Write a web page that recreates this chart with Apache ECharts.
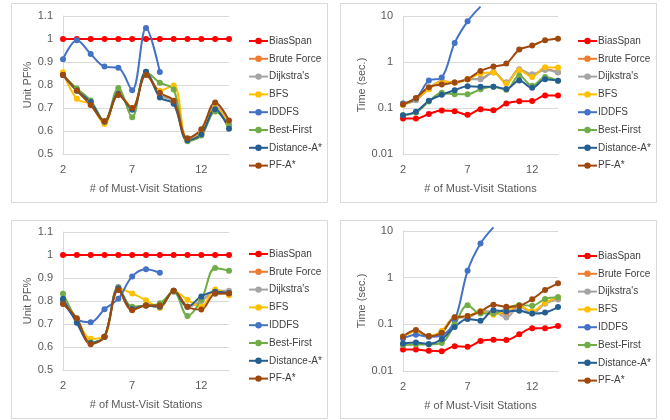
<!DOCTYPE html>
<html>
<head>
<meta charset="utf-8">
<script src="https://cdn.jsdelivr.net/npm/echarts@6/dist/echarts.min.js"></script>
<style>
  html, body { margin: 0; padding: 0; background: #fff; }
  #chart { width: 670px; height: 420px; }
</style>
</head>
<body>
<div id="chart"></div>
<script>
// Number of must-visit stations (x axis of every panel)
const stations = ['2', '3', '4', '5', '6', '7', '8', '9', '10', '11', '12', '13', '14'];
const algorithms = ['BiasSpan', 'Brute Force', "Dijkstra's", 'BFS', 'IDDFS', 'Best-First', 'Distance-A*', 'PF-A*'];
const algoColors = ['#FF0000', '#ED7D31', '#A5A5A5', '#FFC000', '#4472C4', '#70AD47', '#255E91', '#9E480E'];

// Panel 1: unit PF% (first scenario)
const pf1BiasSpan   = [1, 1, 1, 1, 1, 1, 1, 1, 1, 1, 1, 1, 1];
const pf1BruteForce = [0.845, 0.778, 0.728, 0.640, 0.762, 0.695, 0.855, 0.760, 0.727, 0.562, 0.595, 0.705, 0.625];
const pf1Dijkstra   = [0.845, 0.779, 0.728, 0.641, 0.763, 0.696, 0.856, 0.758, 0.726, 0.562, 0.596, 0.705, 0.627];
const pf1BFS        = [0.855, 0.740, 0.715, 0.630, 0.765, 0.700, 0.850, 0.775, 0.798, 0.560, 0.590, 0.700, 0.630];
const pf1IDDFS      = [0.912, 0.995, 0.935, 0.880, 0.875, 0.777, 1.048, 0.857, null, null, null, null, null];
const pf1BestFirst  = [0.843, 0.785, 0.733, 0.643, 0.787, 0.660, 0.858, 0.810, 0.780, 0.555, 0.580, 0.685, 0.625];
const pf1DistAStar  = [0.843, 0.775, 0.726, 0.640, 0.762, 0.692, 0.858, 0.746, 0.718, 0.560, 0.586, 0.695, 0.610];
const pf1PFAStar    = [0.843, 0.776, 0.713, 0.642, 0.757, 0.700, 0.843, 0.766, 0.732, 0.568, 0.608, 0.724, 0.646];

// Panel 2: run time in seconds (first scenario)
const t1BiasSpan   = [0.059, 0.059, 0.074, 0.088, 0.085, 0.071, 0.094, 0.089, 0.125, 0.140, 0.142, 0.187, 0.186];
const t1BruteForce = [0.120, 0.150, 0.260, 0.380, 0.360, 0.420, 0.430, 0.600, 0.360, 0.680, 0.520, 0.700, 0.600];
const t1Dijkstra   = [0.125, 0.148, 0.270, 0.370, 0.360, 0.420, 0.420, 0.600, 0.360, 0.700, 0.540, 0.670, 0.590];
const t1BFS        = [0.116, 0.158, 0.256, 0.383, 0.355, 0.420, 0.561, 0.590, 0.340, 0.660, 0.474, 0.770, 0.760];
const t1IDDFS      = [0.125, 0.158, 0.395, 0.460, 2.600, 7.660, 16, null, null, null, null, null, null];
const t1BestFirst  = [0.070, 0.080, 0.138, 0.214, 0.200, 0.200, 0.256, 0.290, 0.250, 0.508, 0.303, 0.470, 0.389];
const t1DistAStar  = [0.070, 0.083, 0.143, 0.193, 0.244, 0.298, 0.290, 0.290, 0.260, 0.395, 0.274, 0.420, 0.389];
const t1PFAStar    = [0.119, 0.166, 0.284, 0.324, 0.358, 0.423, 0.641, 0.797, 0.925, 1.860, 2.270, 2.960, 3.220];

// Panel 3: unit PF% (second scenario)
const pf2BiasSpan   = [1, 1, 1, 1, 1, 1, 1, 1, 1, 1, 1, 1, 1];
const pf2BruteForce = [0.800, 0.720, 0.620, 0.645, 0.855, 0.770, 0.780, 0.775, 0.845, 0.775, 0.800, 0.840, 0.835];
const pf2Dijkstra   = [0.800, 0.720, 0.620, 0.645, 0.862, 0.770, 0.780, 0.775, 0.845, 0.775, 0.800, 0.845, 0.845];
const pf2BFS        = [0.790, 0.720, 0.636, 0.645, 0.855, 0.833, 0.803, 0.770, 0.845, 0.805, 0.775, 0.850, 0.825];
const pf2IDDFS      = [0.800, 0.720, 0.708, 0.764, 0.810, 0.907, 0.938, 0.923, null, null, null, null, null];
const pf2BestFirst  = [0.832, 0.715, 0.620, 0.645, 0.855, 0.775, 0.780, 0.790, 0.840, 0.735, 0.805, 0.943, 0.932];
const pf2DistAStar  = [0.810, 0.705, 0.617, 0.645, 0.855, 0.765, 0.780, 0.775, 0.845, 0.775, 0.820, 0.840, 0.835];
const pf2PFAStar    = [0.787, 0.725, 0.612, 0.645, 0.848, 0.760, 0.780, 0.780, 0.845, 0.775, 0.763, 0.832, 0.833];

// Panel 4: run time in seconds (second scenario)
const t2BiasSpan   = [0.029, 0.029, 0.027, 0.0265, 0.034, 0.033, 0.044, 0.047, 0.046, 0.061, 0.082, 0.082, 0.092];
const t2BruteForce = [0.055, 0.072, 0.055, 0.070, 0.140, 0.145, 0.190, 0.180, 0.170, 0.250, 0.180, 0.280, 0.350];
const t2Dijkstra   = [0.055, 0.072, 0.055, 0.070, 0.140, 0.140, 0.190, 0.190, 0.140, 0.240, 0.170, 0.280, 0.340];
const t2BFS        = [0.054, 0.070, 0.056, 0.073, 0.140, 0.150, 0.190, 0.160, 0.200, 0.250, 0.190, 0.290, 0.380];
const t2IDDFS      = [0.050, 0.060, 0.054, 0.058, 0.120, 1.400, 5.400, 12, null, null, null, null, null];
const t2BestFirst  = [0.036, 0.037, 0.037, 0.040, 0.100, 0.255, 0.170, 0.170, 0.220, 0.260, 0.250, 0.350, 0.380];
const t2DistAStar  = [0.039, 0.041, 0.038, 0.048, 0.088, 0.130, 0.120, 0.200, 0.190, 0.195, 0.170, 0.180, 0.235];
const t2PFAStar    = [0.0545, 0.0756, 0.056, 0.066, 0.141, 0.150, 0.187, 0.264, 0.237, 0.250, 0.344, 0.545, 0.757];

const panelSeries = [
  [pf1BiasSpan, pf1BruteForce, pf1Dijkstra, pf1BFS, pf1IDDFS, pf1BestFirst, pf1DistAStar, pf1PFAStar],
  [t1BiasSpan, t1BruteForce, t1Dijkstra, t1BFS, t1IDDFS, t1BestFirst, t1DistAStar, t1PFAStar],
  [pf2BiasSpan, pf2BruteForce, pf2Dijkstra, pf2BFS, pf2IDDFS, pf2BestFirst, pf2DistAStar, pf2PFAStar],
  [t2BiasSpan, t2BruteForce, t2Dijkstra, t2BFS, t2IDDFS, t2BestFirst, t2DistAStar, t2PFAStar]
];

const FONT = 'Liberation Sans';
const TEXT = '#595959';
const LINE = '#d9d9d9';

// panel layout: plot rectangles, legend anchors, frame boxes
const grids = [
  { left: 63, top: 16, width: 166, height: 138 },
  { left: 403, top: 16, width: 155, height: 138 },
  { left: 63, top: 232, width: 166, height: 138 },
  { left: 403, top: 231, width: 155, height: 140 }
];
const legendPos = [
  { left: 248, top: 36 }, { left: 577, top: 36 },
  { left: 248, top: 249 }, { left: 577, top: 251 }
];
const frames = [
  { x: 11.5, y: 3.5, width: 316, height: 199 },
  { x: 340.5, y: 3.5, width: 316, height: 199 },
  { x: 11.5, y: 220.5, width: 316, height: 198 },
  { x: 340.5, y: 220.5, width: 316, height: 198 }
];
const isTime = [false, true, false, true];

const xAxes = grids.map((g, i) => ({
  type: 'category',
  gridIndex: i,
  data: stations,
  boundaryGap: false,
  name: '# of Must-Visit Stations',
  nameLocation: 'middle',
  nameGap: 29,
  nameTextStyle: { color: TEXT, fontFamily: FONT, fontSize: 11 },
  axisLine: { lineStyle: { color: LINE, width: 1 } },
  axisTick: { show: false },
  axisLabel: { interval: 4, color: TEXT, fontFamily: FONT, fontSize: 11, margin: 10 },
  splitLine: { show: false }
}));

const yAxes = grids.map((g, i) => isTime[i] ? {
  type: 'log',
  gridIndex: i,
  logBase: 10,
  min: 0.01,
  max: 10,
  name: 'Time (sec.)',
  nameLocation: 'middle',
  nameGap: 36,
  nameTextStyle: { color: TEXT, fontFamily: FONT, fontSize: 11 },
  axisLine: { show: true, lineStyle: { color: LINE } },
  axisTick: { show: false },
  axisLabel: { color: TEXT, fontFamily: FONT, fontSize: 11, margin: 10,
               formatter: v => String(+v.toPrecision(3)) },
  splitLine: { lineStyle: { color: LINE } }
} : {
  type: 'value',
  gridIndex: i,
  min: 0.5,
  max: 1.1,
  interval: 0.1,
  name: 'Unit PF%',
  nameLocation: 'middle',
  nameGap: 26,
  nameTextStyle: { color: TEXT, fontFamily: FONT, fontSize: 11 },
  axisLine: { show: true, lineStyle: { color: LINE } },
  axisTick: { show: false },
  axisLabel: { color: TEXT, fontFamily: FONT, fontSize: 11, margin: 10,
               formatter: v => String(+v.toFixed(2)) },
  splitLine: { lineStyle: { color: LINE } }
});

const series = [];
panelSeries.forEach((arrs, p) => {
  const axisMax = isTime[p] ? 10 : 1.1;
  arrs.forEach((arr, k) => {
    series.push({
      type: 'line',
      name: algorithms[k],
      xAxisIndex: p,
      yAxisIndex: p,
      smooth: 0.35,
      clip: false,
      symbol: 'circle',
      symbolSize: 6,
      connectNulls: false,
      color: algoColors[k],
      lineStyle: { width: 2, color: algoColors[k] },
      itemStyle: { color: algoColors[k] },
      // values beyond the axis top run off the plot without a marker
      data: arr.map(v => (v != null && v > axisMax) ? { value: v, symbol: 'none' } : v),
      animation: false
    });
  });
});

const legends = legendPos.map(pos => ({
  orient: 'vertical',
  left: pos.left,
  top: pos.top,
  padding: 0,
  itemWidth: 19,
  itemHeight: 8,
  itemGap: 7.8,
  data: algorithms,
  textStyle: { color: '#404040', fontFamily: FONT, fontSize: 10, padding: [0, 0, 0, -4] },
  selectedMode: false
}));

const chart = echarts.init(document.getElementById('chart'), null, { renderer: 'canvas' });
chart.setOption({
  backgroundColor: '#ffffff',
  animation: false,
  grid: grids,
  xAxis: xAxes,
  yAxis: yAxes,
  legend: legends,
  series: series,
  graphic: frames.map(f => ({
    type: 'rect',
    shape: { x: f.x, y: f.y, width: f.width, height: f.height },
    style: { fill: 'none', stroke: LINE, lineWidth: 1 },
    silent: true,
    z: -10
  }))
});
</script>
</body>
</html>
